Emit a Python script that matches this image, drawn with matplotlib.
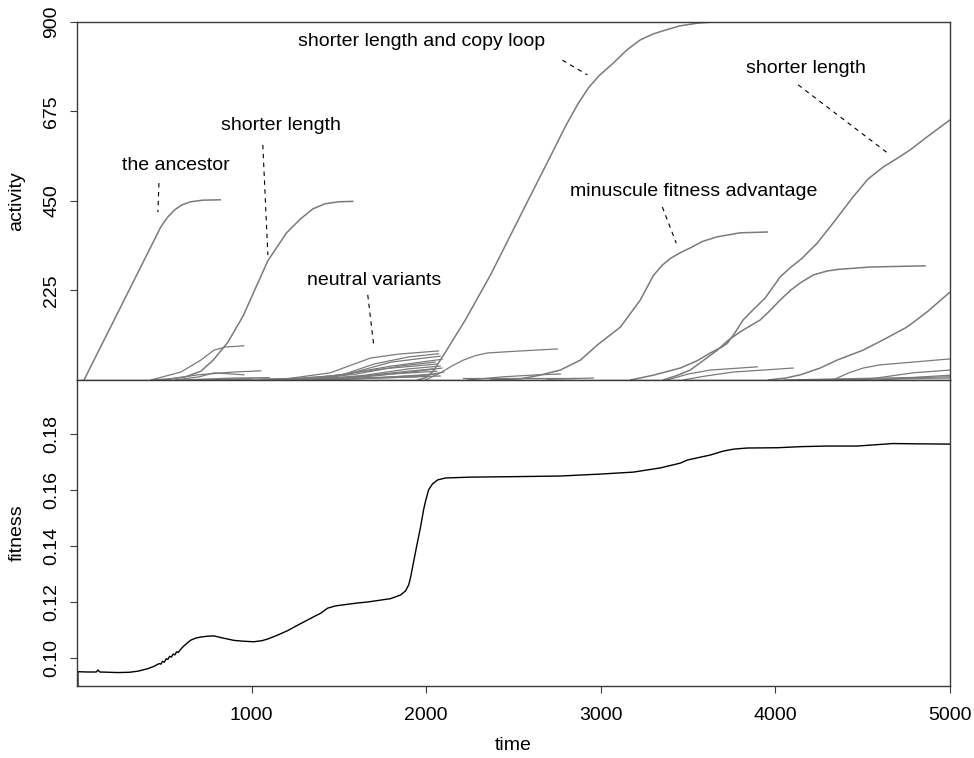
import matplotlib
matplotlib.use("Agg")
import matplotlib.pyplot as plt

plt.rcParams['font.family'] = ['Liberation Sans', 'DejaVu Sans']
plt.rcParams['font.size'] = 14

# ---- activity of the main lineages (time, activity) ----
ancestor_t = [40, 480, 520, 560, 600, 650, 720, 820]
ancestor_a = [0, 385, 410, 428, 440, 448, 452, 453]

short1_t = [430, 538, 620, 709, 780, 864, 950, 1093, 1200, 1280, 1350, 1420, 1500, 1579]
short1_a = [0, 3, 8, 22, 50, 95, 160, 300, 370, 405, 430, 443, 448, 449]

copyloop_t = [1950, 2000, 2041, 2110, 2224, 2368, 2585, 2720, 2800, 2870, 2930, 2990,
              3072, 3150, 3226, 3300, 3358, 3450, 3552, 3650, 3855]
copyloop_a = [0, 6, 23, 70, 151, 264, 453, 570, 640, 695, 735, 765,
              797, 830, 855, 870, 878, 890, 897, 900, 900]

minuscule_t = [2368, 2540, 2650, 2768, 2883, 2980, 3112, 3226, 3300, 3350, 3400, 3455,
               3512, 3580, 3667, 3798, 3953]
minuscule_a = [0, 3, 12, 25, 50, 88, 133, 201, 262, 288, 306, 320, 332, 348, 360, 370, 372]

short2_t = [3170, 3300, 3455, 3550, 3627, 3690, 3724, 3770, 3815, 3880, 3941, 4027, 4084,
            4150, 4239, 4340, 4444, 4530, 4616, 4700, 4770, 4880, 5000]
short2_a = [0, 12, 30, 48, 68, 82, 92, 120, 151, 180, 206, 259, 282,
            305, 344, 400, 460, 505, 535, 558, 578, 615, 654]

plateau_t = [3358, 3440, 3512, 3590, 3667, 3730, 3798, 3913, 3970, 4027, 4085, 4142, 4216,
             4296, 4359, 4541, 4857]
plateau_a = [0, 12, 25, 50, 75, 100, 121, 151, 175, 201, 225, 244, 264, 274, 278, 284, 287]

late_t = [3960, 4060, 4142, 4256, 4353, 4502, 4639, 4753, 4868, 5000]
late_a = [0, 5, 13, 30, 50, 75, 106, 133, 171, 221]

# ---- minor / neutral variants ----
minor_t = [
    [423, 595, 709, 784, 852, 955],
    [497, 692, 898, 1052],
    [560, 700, 784, 955],
    [650, 1000], [700, 1250], [600, 900, 1100],
    [1150, 1450, 1680, 1840, 2070],
    [1200, 1500, 1700, 1900, 2070],
    [1250, 1550, 1800, 2080],
    [1200, 1500, 1800, 2090],
    [1300, 1600, 1850, 2050],
    [1100, 1450, 1750, 2060],
    [1350, 1650, 1900, 2080],
    [1250, 1600, 1850, 2040],
    [1400, 1700, 1950, 2090],
    [1150, 1500, 1800, 2060],
    [1300, 1650, 2000, 2100],
    [1450, 1750, 2050],
    [1050, 1400, 1800, 2080],
    [1200, 1600, 1950],
    [1996, 2082, 2150, 2213, 2280, 2351, 2540, 2751],
    [2236, 2442, 2637, 2768],
    [2694, 2957], [2210, 2850],
    [3380, 3500, 3627, 3896],
    [3472, 3600, 3758, 4101],
    [4330, 4420, 4502, 4599, 4788, 5000],
    [4500, 4788, 5000],
    [4600, 4850, 5000],
    [4050, 4500, 5000],
    [4200, 4700, 5000],
]
minor_a = [
    [0, 20, 50, 75, 83, 86],
    [0, 13, 20, 23],
    [0, 8, 18, 13],
    [0, 3], [0, 4], [0, 5, 6],
    [0, 18, 55, 65, 73],
    [0, 10, 40, 58, 66],
    [0, 15, 45, 60],
    [0, 12, 35, 52],
    [0, 15, 35, 45],
    [0, 10, 28, 40],
    [0, 12, 28, 35],
    [0, 8, 20, 28],
    [0, 10, 22, 30],
    [0, 6, 15, 22],
    [0, 5, 12, 20],
    [0, 6, 15],
    [0, 3, 6, 10],
    [0, 3, 8],
    [0, 18, 36, 50, 61, 68, 73, 78],
    [0, 8, 13, 15],
    [2, 5], [4, 4],
    [0, 15, 25, 33],
    [0, 10, 20, 30],
    [0, 18, 30, 38, 45, 53],
    [0, 18, 25],
    [0, 8, 12],
    [0, 4, 8],
    [0, 3, 5],
]

# ---- mean fitness ----
fit_t = [5, 5, 60, 110, 120, 130, 234, 300, 350, 406, 440, 470, 480, 490, 500, 510, 520,
         530, 540, 550, 560, 570, 580, 595, 610, 625, 640, 652, 680, 709, 750, 784, 830,
         898, 950, 1013, 1060, 1093, 1150, 1207, 1260, 1321, 1370, 1396, 1435, 1480, 1527,
         1600, 1664, 1730, 1796, 1853, 1882, 1900, 1911, 1939, 1968, 1985, 1996, 2013,
         2036, 2065, 2111, 2254, 2540, 2768, 3000, 3187, 3341, 3455, 3495, 3560, 3627,
         3701, 3760, 3838, 4010, 4150, 4296, 4467, 4673, 4800, 5000]
fit_v = [0.080, 0.0951, 0.0950, 0.0950, 0.0957, 0.0950, 0.0948, 0.0949, 0.0953, 0.0962,
         0.0970, 0.0980, 0.0978, 0.0988, 0.0985, 0.0997, 0.0995, 0.1006, 0.1003, 0.1014,
         0.1011, 0.1022, 0.1020, 0.1032, 0.1042, 0.1050, 0.1058, 0.1064, 0.1071, 0.1075,
         0.1078, 0.1079, 0.1072, 0.1063, 0.1060, 0.1058, 0.1062, 0.1068, 0.1082, 0.1098,
         0.1116, 0.1136, 0.1152, 0.1160, 0.1178, 0.1186, 0.1190, 0.1196, 0.1200, 0.1206,
         0.1212, 0.1225, 0.1240, 0.1262, 0.1290, 0.1380, 0.1470, 0.1530, 0.1560, 0.1600,
         0.1622, 0.1636, 0.1643, 0.1646, 0.1648, 0.1650, 0.1657, 0.1664, 0.1679, 0.1696,
         0.1707, 0.1716, 0.1725, 0.1739, 0.1746, 0.1750, 0.1751, 0.1755, 0.1757, 0.1757,
         0.1766, 0.1765, 0.1764]

notes = ["the ancestor", "shorter length", "neutral variants",
         "shorter length and copy loop", "minuscule fitness advantage", "shorter length"]
note_xy = [(566, 538), (1167, 641), (1699, 251), (1973, 850), (3529, 475), (4176, 784)]
leader_x = [(469, 463), (1064, 1093), (1665, 1699), (2780, 2923), (3352, 3432), (4130, 4656)]
leader_y = [(495, 422), (591, 314), (214, 88), (804, 767), (435, 344), (742, 566)]

gray = '#7a7a7a'
frame = '#3a3a3a'

fig = plt.figure(figsize=(9.74, 7.58), dpi=100)
ax1 = fig.add_axes([0.0791, 0.4987, 0.8963, 0.4723])
ax2 = fig.add_axes([0.0791, 0.0950, 0.8963, 0.4037])

for t, a in zip(minor_t, minor_a):
    ax1.plot(t, a, color=gray, lw=0.9)
for t, a in [(ancestor_t, ancestor_a), (short1_t, short1_a), (copyloop_t, copyloop_a),
             (minuscule_t, minuscule_a), (short2_t, short2_a), (plateau_t, plateau_a),
             (late_t, late_a)]:
    ax1.plot(t, a, color=gray, lw=1.1)

for s, (x, y), lx, ly in zip(notes, note_xy, leader_x, leader_y):
    ax1.text(x, y, s, ha='center', va='center', fontsize=14)
    ax1.plot(lx, ly, color='black', lw=0.8, linestyle=(0, (4, 4)))

ax1.set_xlim(0, 5000)
ax1.set_ylim(0, 900)
ax1.set_yticks([225, 450, 675, 900])
ax1.set_xticks([])

ax2.plot(fit_t, fit_v, color='black', lw=1.0)
ax2.set_xlim(0, 5000)
ax2.set_ylim(0.09, 0.1993)
ax2.set_yticks([0.10, 0.12, 0.14, 0.16, 0.18])
ax2.set_yticklabels(["0.10", "0.12", "0.14", "0.16", "0.18"])
ax2.set_xticks([1000, 2000, 3000, 4000, 5000])

for ax in (ax1, ax2):
    for sp in ax.spines.values():
        sp.set_color(frame)
        sp.set_linewidth(1.0)
    ax.tick_params(axis='y', direction='out', length=5, width=0.8, color=frame,
                   labelsize=14, pad=7, labelrotation=90)
    for lab in ax.get_yticklabels():
        lab.set_va('center')
ax2.tick_params(axis='x', direction='out', length=5, width=0.8, color=frame,
                labelsize=14, pad=10)

fig.text(17 / 974, 1 - 201 / 758, "activity", rotation=90, ha='center', va='center', fontsize=14)
fig.text(17 / 974, 1 - 533 / 758, "fitness", rotation=90, ha='center', va='center', fontsize=14)
fig.text(513.5 / 974, 1 - 746 / 758, "time", ha='center', va='center', fontsize=14)

plt.savefig("out.png", dpi=100)
